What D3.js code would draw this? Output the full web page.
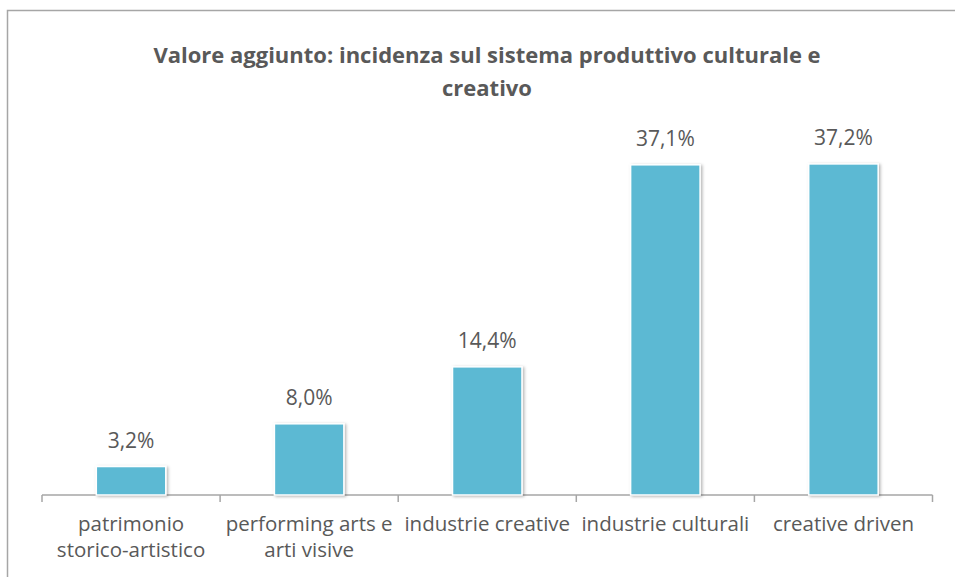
<!DOCTYPE html>
<html>
<head>
<meta charset="utf-8">
<script src="https://cdn.jsdelivr.net/npm/d3@7"></script>
<style>
  body { margin: 0; background: #fff; }
  text { font-family: "Open Sans", sans-serif; fill: #595959; }
</style>
</head>
<body>
<svg></svg>
<script>
const categories = ['patrimonio\nstorico-artistico', 'performing arts e\narti visive', 'industrie creative', 'industrie culturali', 'creative driven'];
const values = [3.2, 8.0, 14.4, 37.1, 37.2];
const titleLines = ['Valore aggiunto: incidenza sul sistema produttivo culturale e', 'creativo'];

const data = categories.map((c, i) => ({ category: c, value: values[i] }));

const width = 955;
const height = 577;

const svg = d3.select('svg')
	.attr('width', width)
	.attr('height', height);

// chart frame (right and bottom edges fall outside the picture)
svg.append('rect')
	.attr('x', 7.5)
	.attr('y', 10.5)
	.attr('width', 960)
	.attr('height', 580)
	.attr('fill', 'none')
	.attr('stroke', '#a6a6a6')
	.attr('stroke-width', 1.5);

const defs = svg.append('defs');
defs.append('filter')
	.attr('id', 'shadow')
	.attr('x', '-20%').attr('y', '-20%')
	.attr('width', '140%').attr('height', '140%')
	.append('feDropShadow')
		.attr('dx', 1.5)
		.attr('dy', 1)
		.attr('stdDeviation', 1.5)
		.attr('flood-color', '#000')
		.attr('flood-opacity', 0.3);

svg.append('g')
	.selectAll('text').data(titleLines)
	.enter().append('text')
		.attr('x', 487)
		.attr('y', (d, i) => 63 + i * 33)
		.attr('text-anchor', 'middle')
		.attr('font-size', 22)
		.attr('font-weight', 'bold')
		.text(d => d);

const xScale = d3.scaleBand()
	.domain(categories)
	.range([42, 932.5])
	.paddingInner(0.61)
	.paddingOuter(0.305);

const yScale = d3.scaleLinear()
	.domain([0, 40])
	.range([495, 139]);

const gap = xScale.step() - xScale.bandwidth();
const bounds = categories.map(c => xScale(c) - gap / 2).concat([xScale.range()[1]]);

const axis = svg.append('g');
axis.append('line')
	.attr('x1', xScale.range()[0])
	.attr('x2', xScale.range()[1])
	.attr('y1', yScale(0))
	.attr('y2', yScale(0))
	.attr('stroke', '#a6a6a6')
	.attr('stroke-width', 1.5);
axis.selectAll('line.tick').data(bounds)
	.enter().append('line')
		.attr('class', 'tick')
		.attr('x1', d => d)
		.attr('x2', d => d)
		.attr('y1', yScale(0))
		.attr('y2', yScale(0) + 7)
		.attr('stroke', '#a6a6a6')
		.attr('stroke-width', 1.5);

svg.append('g')
	.selectAll('rect').data(data)
	.enter().append('rect')
		.attr('x', d => xScale(d.category))
		.attr('y', d => yScale(d.value))
		.attr('width', xScale.bandwidth())
		.attr('height', d => yScale(0) - yScale(d.value))
		.attr('fill', '#5bb9d3')
		.attr('stroke', '#fff')
		.attr('stroke-width', 1.5)
		.attr('filter', 'url(#shadow)');

svg.append('g')
	.selectAll('text').data(data)
	.enter().append('text')
		.attr('x', d => xScale(d.category) + xScale.bandwidth() / 2)
		.attr('y', d => yScale(d.value) - 19)
		.attr('text-anchor', 'middle')
		.attr('font-size', 21)
		.text(d => d3.format('.1f')(d.value).replace('.', ',') + '%');

const labels = svg.append('g')
	.selectAll('text').data(categories)
	.enter().append('text')
		.attr('x', d => xScale(d) + xScale.bandwidth() / 2)
		.attr('y', 531)
		.attr('text-anchor', 'middle')
		.attr('font-size', 20.5);

labels.selectAll('tspan').data(d => d.split('\n'))
	.enter().append('tspan')
		.attr('x', function() { return this.parentNode.getAttribute('x'); })
		.attr('dy', (d, i) => i === 0 ? 0 : 26)
		.text(d => d);
</script>
</body>
</html>
